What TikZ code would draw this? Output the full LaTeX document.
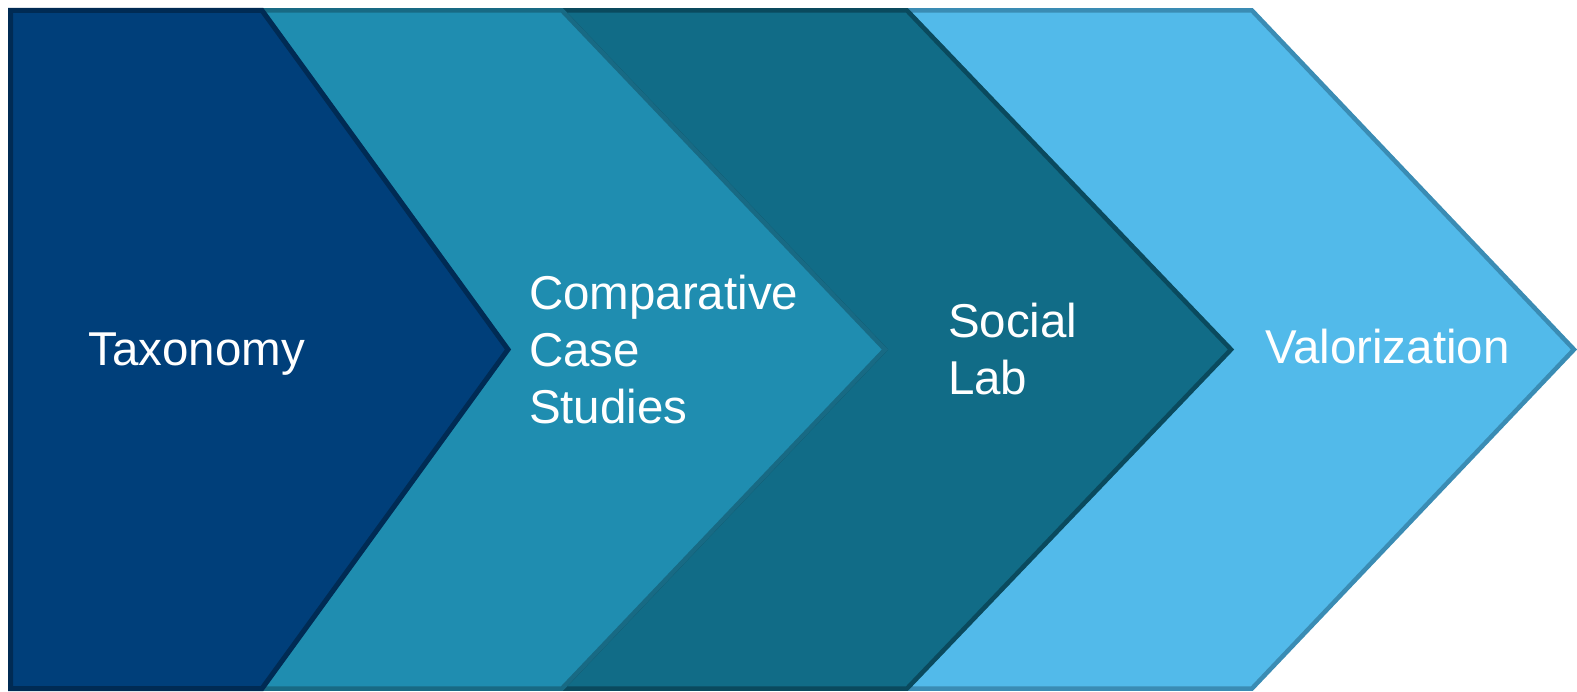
\documentclass[tikz,border=0pt]{standalone}
\usepackage{fontspec}
\setmainfont{Liberation Sans}
\definecolor{navyfill}{RGB}{0,63,122}
\definecolor{navyline}{RGB}{0,43,84}
\definecolor{tealfill}{RGB}{31,141,176}
\definecolor{tealline}{RGB}{24,106,132}
\definecolor{deepfill}{RGB}{17,108,135}
\definecolor{deepline}{RGB}{10,74,94}
\definecolor{skyfill}{RGB}{82,186,234}
\definecolor{skyline}{RGB}{58,140,180}
\tikzset{
  chev/.style={line width=4.5pt, line join=miter},
  lbl/.style={anchor=base west, inner sep=0pt, outer sep=0pt, text=white, align=left,
    font=\fontsize{47.5}{57.5}\selectfont},
}
\begin{document}
\begin{tikzpicture}[x=1pt,y=-1pt]
  \useasboundingbox (0,0) rectangle (1577,692);
  % stage outlines, drawn from last to first so each chevron overlaps the next
  \draw[chev, fill=skyfill, draw=skyline]
    (907,10.5) -- (1252,10.5) -- (1574,349.5) -- (1252,688.5) -- (907,688.5) -- (1231,349.5) -- cycle;
  \draw[chev, fill=deepfill, draw=deepline]
    (562,10.5) -- (907,10.5) -- (1231,349.5) -- (907,688.5) -- (562,688.5) -- (885,349.5) -- cycle;
  \draw[chev, fill=tealfill, draw=tealline]
    (262,10.5) -- (562,10.5) -- (885,349.5) -- (562,688.5) -- (262,688.5) -- (508,349.5) -- cycle;
  \draw[chev, line width=5pt, fill=navyfill, draw=navyline]
    (10.5,10.5) -- (262,10.5) -- (508,349.5) -- (262,688.5) -- (10.5,688.5) -- cycle;
  % stage labels (base anchor sits on the last line)
  \node[lbl] (tax) at (88.5,366) {Taxonomy};
  \node[lbl] (ccs) at (529,424) {Comparative\\Case\\Studies};
  \node[lbl] (lab) at (948,395) {Social\\Lab};
  \node[lbl] (val) at (1265,364) {Valorization};
\end{tikzpicture}
\end{document}
